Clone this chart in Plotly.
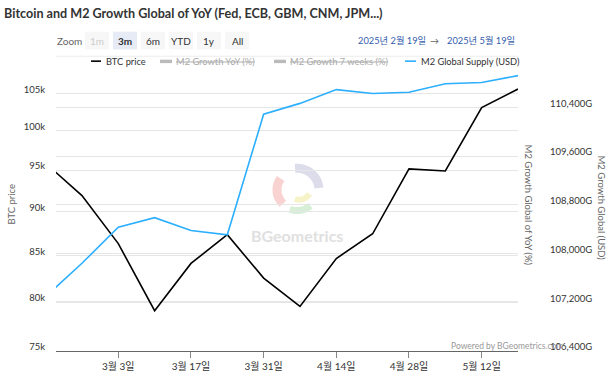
import math
import plotly.graph_objects as go

# ---------------- data ----------------
dates = ['2025-02-17', '2025-02-24', '2025-03-03', '2025-03-10', '2025-03-17',
         '2025-03-24', '2025-03-31', '2025-04-07', '2025-04-14', '2025-04-21',
         '2025-04-28', '2025-05-05', '2025-05-12', '2025-05-19']
btc_price = [95850, 91900, 86300, 79060, 84100, 87310, 82500, 79500, 84640,
             87420, 95150, 94900, 103090, 105630]
m2_supply_g = [107292, 107840, 108432, 108589, 108379, 108308, 110287, 110465,
               110691, 110626, 110647, 110787, 110808, 110921]

x_tick_dates = ['2025-03-03', '2025-03-17', '2025-03-31', '2025-04-14', '2025-04-28', '2025-05-12']
x_tick_text = ['3월 3일', '3월 17일', '3월 31일', '4월 14일', '4월 28일', '5월 12일']
left_ticks = [75000, 80000, 85000, 90000, 95000, 100000, 105000]
left_tick_text = ['75k', '80k', '85k', '90k', '95k', '100k', '105k']
right_ticks = [106400, 107200, 108000, 108800, 109600, 110400]
right_tick_text = ['106,400G', '107,200G', '108,000G', '108,800G', '109,600G', '110,400G']

range_buttons = ['1m', '3m', '6m', 'YTD', '1y', 'All']
selected_button = '3m'
disabled_buttons = ['1m']

# ---------------- layout geometry (pixels) ----------------
FW, FH = 612, 384
L, R, T, B = 56, 518, 70, 356
PW, PH = R - L, B - T

def px(x):
    return (x - L) / PW

def py(y):
    return (B - y) / PH

FONT = "Lato, 'Noto Sans CJK KR', sans-serif"
TXT = '#333333'
SMALL = 9.5

fig = go.Figure()
fig.add_trace(go.Scatter(x=dates, y=btc_price, mode='lines', name='BTC price',
                         line=dict(color='#000000', width=1.6), yaxis='y'))
fig.add_trace(go.Scatter(x=dates, y=m2_supply_g, mode='lines', name='M2 Global Supply (USD)',
                         line=dict(color='#2caffe', width=1.6), yaxis='y2'))

shapes = []
ann = []

def text(x, y, s, size=SMALL, color=TXT, xanchor='left', bold=False, angle=0):
    ann.append(dict(x=px(x), y=py(y), xref='paper', yref='paper', text=('<b>%s</b>' % s) if bold else s,
                    showarrow=False, xanchor=xanchor, yanchor='middle', textangle=angle,
                    borderpad=0, font=dict(family=FONT, size=size, color=color)))

def line(x0, y0, x1, y1, color, width=1):
    shapes.append(dict(type='line', xref='paper', yref='paper', x0=px(x0), y0=py(y0), x1=px(x1), y1=py(y1),
                       line=dict(color=color, width=width), layer='above'))

def rect(x0, y0, x1, y1, fill):
    shapes.append(dict(type='rect', xref='paper', yref='paper', x0=px(x0), y0=py(y0), x1=px(x1), y1=py(y1),
                       fillcolor=fill, line=dict(width=0), layer='below'))

# title
text(3, 12, 'Bitcoin and M2 Growth Global of YoY (Fed, ECB, GBM, CNM, JPM...)', size=12.6, bold=True)

# range selector
text(56, 40, 'Zoom', size=10, color='#666666')
bx = 85
for b in range_buttons:
    w = 24
    fill = '#e6ebf5' if b == selected_button else '#f7f7f7'
    rect(bx, 31, bx + w, 49, fill)
    col = '#cccccc' if b in disabled_buttons else TXT
    text(bx + w / 2, 40, b, size=10, color=col, xanchor='center', bold=(b == selected_button))
    bx += w + 4

# date range inputs
text(357, 40, '2025년 2월 19일', size=9.3, color='#335cad')
text(434, 40, '→', size=9, color='#666666', xanchor='center')
text(446, 40, '2025년 5월 19일', size=9.3, color='#335cad')

# faint separator line below the range selector
shapes.append(dict(type='line', xref='paper', yref='paper', x0=px(56), y0=py(56), x1=px(518), y1=py(56),
                   line=dict(color='#ececec', width=1), layer='below'))

# legend
line(91, 61, 101, 61, '#000000', 1.6)
text(105, 61, 'BTC price', size=9.3)
hid = '#aaaaaa'
rect(160, 59.5, 172, 63, '#bbbbbb')
text(175, 61, '<span style="text-decoration:line-through">M2 Growth YoY (%)</span>', size=9.3, color=hid)
rect(274, 59.5, 286, 63, '#bbbbbb')
text(289, 61, '<span style="text-decoration:line-through">M2 Growth 7 weeks (%)</span>', size=9.3, color=hid)
line(405, 61, 416, 61, '#2caffe', 1.6)
text(420, 61, 'M2 Global Supply (USD)', size=9.3)

# axis titles
text(12, 207, 'BTC price', size=9.5, color='#666666', xanchor='center', angle=-90)
text(528, 207, 'M2 Growth Global of YoY (%)', size=9.5, color='#666666', xanchor='center', angle=90)
text(601, 210, 'M2 Growth Global (USD)', size=9.5, color='#666666', xanchor='center', angle=90)

# credits
text(450, 351, 'Powered by BGeometrics.com', size=8.5, color='#999999')

# watermark
text(297, 238, 'BGeometrics', size=16, color='#e0e0e0', xanchor='center', bold=True)

def arc(cx, cy, r, a0, a1, color, width):
    pts = []
    n = 24
    for i in range(n + 1):
        a = math.radians(a0 + (a1 - a0) * i / n)
        pts.append((px(cx + r * math.cos(a)), py(cy - r * math.sin(a))))
    path = 'M ' + ' L '.join('%.5f %.5f' % p for p in pts)
    shapes.append(dict(type='path', xref='paper', yref='paper', path=path,
                       line=dict(color=color, width=width), layer='below'))

arc(297, 192, 22, 95, 5, '#dcdcea', 9)
arc(297, 192, 20, 145, 225, '#f9d2d2', 9)
arc(299, 190, 12, 330, 250, '#f7f3c8', 6)
arc(297, 192, 21, 250, 310, '#d6efd6', 7)

log_lo = math.log10(75000)
log_hi = log_lo + 286 * (math.log10(105000 / 75000) / 262)
r_lo = 106400
r_hi = 106400 + 286 * (800 / 49.6)

fig.update_layout(
    width=FW, height=FH,
    margin=dict(l=L, r=FW - R, t=T, b=FH - B, pad=0),
    paper_bgcolor='#ffffff', plot_bgcolor='#ffffff',
    showlegend=False,
    font=dict(family=FONT, size=SMALL, color=TXT),
    xaxis=dict(type='date', range=['2025-02-19', '2025-05-19'],
               tickvals=x_tick_dates, ticktext=x_tick_text,
               ticks='outside', ticklen=6, tickcolor='#888888', tickwidth=1,
               showline=True, linecolor='#666666', linewidth=1,
               showgrid=False, zeroline=False,
               tickfont=dict(family=FONT, size=10, color=TXT)),
    yaxis=dict(type='log', range=[log_lo, log_hi],
               tickvals=left_ticks, ticktext=left_tick_text,
               showgrid=True, gridcolor='#e6e6e6', gridwidth=1,
               zeroline=False, showline=False, ticks='',
               ticklabelstandoff=10, ticklabelshift=-4,
               tickfont=dict(family=FONT, size=SMALL, color='#333333')),
    yaxis2=dict(overlaying='y', side='right', range=[r_lo, r_hi],
                tickvals=right_ticks, ticktext=right_tick_text,
                showgrid=True, gridcolor='#e6e6e6', gridwidth=1,
                zeroline=False, showline=False, ticks='',
                ticklabelstandoff=31, ticklabelshift=-4,
                tickfont=dict(family=FONT, size=SMALL, color='#333333')),
    shapes=shapes, annotations=ann,
)

fig.write_html('out.html', config={'displayModeBar': False},
               post_script="document.body.style.margin='0px';document.body.style.padding='0px';")
